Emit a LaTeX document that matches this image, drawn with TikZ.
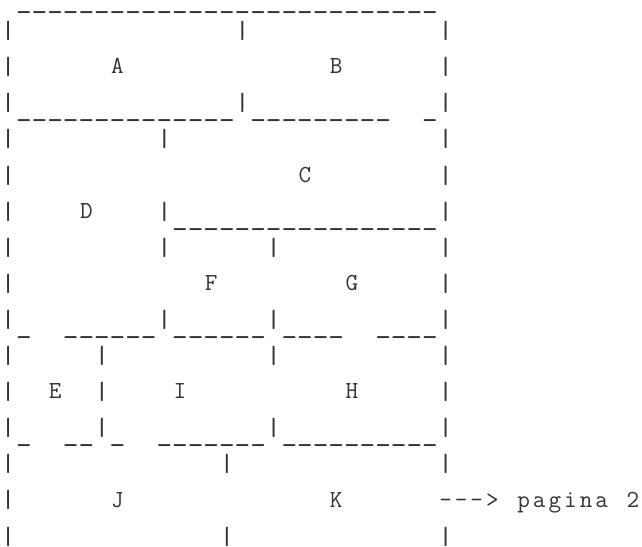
\documentclass[tikz,border=0pt]{standalone}
\usepackage{graphicx}
\usepackage{tikz}
\usetikzlibrary{positioning}

% a short upright bar, sat a little below the baseline
\newcommand\barc{\sbox0{\resizebox*{\width}{19.4pt}{|}}\raisebox{\dimexpr\dp0-3pt\relax}{\usebox0}}
% underscore, dropped to the bottom of its cell
\newcommand\undc{\raisebox{-6pt}{\_}}
% a letter in the smaller face, kept to one cell
\newcommand\lbl[1]{\sbox0{\_}\makebox[\wd0]{\fontsize{24.5}{36.1}\selectfont #1}}

\begin{document}
\begin{tikzpicture}[
    x=1pt, y=1pt,
    rowtxt/.style={inner sep=0pt, outer sep=0pt, anchor=base west, text=black!80,
        font=\ttfamily\fontsize{30.33}{36.1}\selectfont},
    nextrow/.style={rowtxt, at={([yshift=-36.1pt]#1.base west)}},
]
\useasboundingbox (0,0) rectangle (642,-546);

% ── top edge ──
\node[rowtxt] (row0) at (0.4,-1.6) {~\undc\undc\undc\undc\undc\undc\undc\undc\undc\undc\undc\undc\undc\undc\undc\undc\undc\undc\undc\undc\undc\undc\undc\undc\undc\undc\undc};

% ── A | B ──
\node[nextrow=row0] (row1) {\barc~~~~~~~~~~~~~~\barc~~~~~~~~~~~~\barc};
\node[nextrow=row1] (row2) {\barc~~~~~~\lbl{A}~~~~~~~~~~~~~\lbl{B}~~~~~~\barc};
\node[nextrow=row2] (row3) {\barc\undc\undc\undc\undc\undc\undc\undc\undc\undc\undc\undc\undc\undc\undc\barc\undc\undc\undc\undc\undc\undc\undc\undc\undc~~\undc\barc};

% ── D | C ──
\node[nextrow=row3] (row4) {\barc~~~~~~~~~\barc~~~~~~~~~~~~~~~~~\barc};
\node[nextrow=row4] (row5) {\barc~~~~~~~~~~~~~~~~~~\lbl{C}~~~~~~~~\barc};
\node[nextrow=row5] (row6) {\barc~~~~\lbl{D}~~~~\barc\undc\undc\undc\undc\undc\undc\undc\undc\undc\undc\undc\undc\undc\undc\undc\undc\undc\barc};

% ── F | G ──
\node[nextrow=row6] (row7) {\barc~~~~~~~~~\barc~~~~~~\barc~~~~~~~~~~\barc};
\node[nextrow=row7] (row8) {\barc~~~~~~~~~~~~\lbl{F}~~~~~~~~\lbl{G}~~~~~\barc};
\node[nextrow=row8] (row9) {\barc\undc~~\undc\undc\undc\undc\undc\undc\barc\undc\undc\undc\undc\undc\undc\barc\undc\undc\undc\undc~~\undc\undc\undc\undc\barc};

% ── E | I | H ──
\node[nextrow=row9] (row10) {\barc~~~~~\barc~~~~~~~~~~\barc~~~~~~~~~~\barc};
\node[nextrow=row10] (row11) {\barc~~\lbl{E}~~\barc~~~~\lbl{I}~~~~~~~~~~\lbl{H}~~~~~\barc};
\node[nextrow=row11] (row12) {\barc\undc~~\undc\undc\barc\undc~~\undc\undc\undc\undc\undc\undc\undc\barc\undc\undc\undc\undc\undc\undc\undc\undc\undc\undc\barc};

% ── J | K ──
\node[nextrow=row12] (row13) {\barc~~~~~~~~~~~~~\barc~~~~~~~~~~~~~\barc};
\node[nextrow=row13] (row14) {\barc~~~~~~\lbl{J}~~~~~~~~~~~~~\lbl{K}~~~~~~\lbl{-}\lbl{-}\lbl{-}\lbl{>}~\lbl{p}\lbl{a}\lbl{g}\lbl{i}\lbl{n}\lbl{a}~\lbl{2}};
\node[nextrow=row14] (row15) {\barc~~~~~~~~~~~~~\barc~~~~~~~~~~~~~\barc};

\end{tikzpicture}
\end{document}
